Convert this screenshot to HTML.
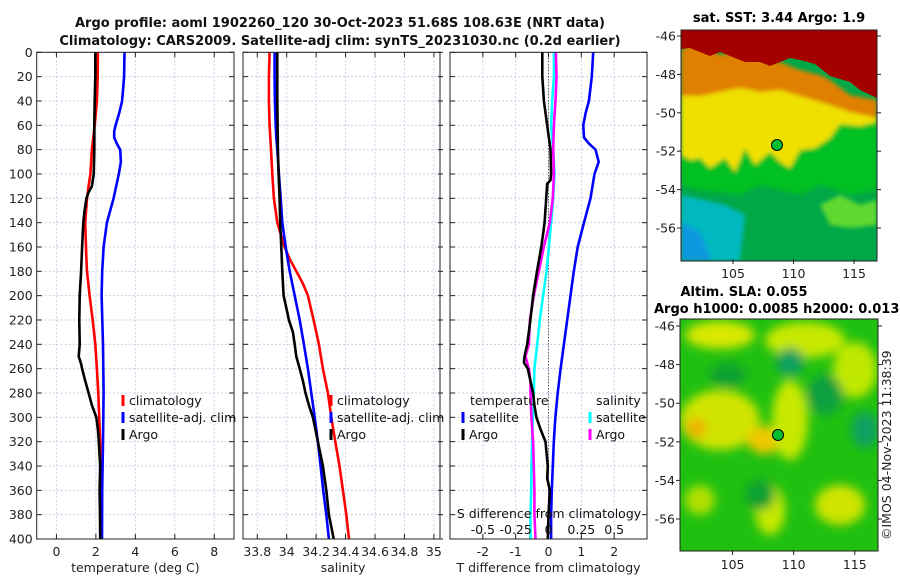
<!DOCTYPE html>
<html><head><meta charset="utf-8"><style>
body{margin:0;background:#fff;}
svg{display:block;font-family:"DejaVu Sans","Liberation Sans",sans-serif;}
</style></head><body>
<svg id="fig" width="900" height="580" viewBox="0 0 900 580" xmlns="http://www.w3.org/2000/svg">
<defs>
<filter id="bl" x="-20%" y="-20%" width="140%" height="140%"><feGaussianBlur stdDeviation="2"/></filter>
<filter id="bl2" x="-20%" y="-20%" width="140%" height="140%"><feGaussianBlur stdDeviation="5"/></filter>
<clipPath id="cm1"><rect x="681" y="30" width="196" height="231"/></clipPath>
<clipPath id="cm2"><rect x="680" y="319" width="198" height="232"/></clipPath>
</defs>
<g font-weight="bold" font-size="13" text-anchor="middle" fill="#111">
<text x="340" y="27">Argo profile: aoml 1902260_120 30-Oct-2023 51.68S 108.63E (NRT data)</text>
<text x="340" y="45">Climatology: CARS2009. Satellite-adj clim: synTS_20231030.nc (0.2d earlier)</text>
</g>
<g id="plots"></g>

<g>
<g clip-path="url(#cm1)">
<rect x="681" y="30" width="196" height="231" fill="#00a848"/>
<g filter="url(#bl)">
<polygon points="681,140 700,150 720,150 740,140 760,150 780,140 800,130 830,118 877,115 877,190 850,195 820,185 800,195 780,190 760,185 740,195 700,190 681,185" fill="#00c020"/>
<polygon points="820,205 840,195 860,205 877,200 877,225 850,228 830,225" fill="#60d830"/>
<polygon points="681,195 705,200 725,205 745,215 740,261 681,261" fill="#00b8c0"/>
<polygon points="681,222 700,232 712,261 681,261" fill="#1098e0"/>
<polygon points="681,85 720,82 760,85 800,95 830,105 877,110 877,122 860,126 840,124 830,138 815,148 800,150 790,168 780,162 770,152 755,165 745,148 735,172 725,158 710,168 700,158 690,160 681,155" fill="#f0e000"/>
<polygon points="681,50 690,45 700,42 720,55 740,50 760,55 780,62 800,70 820,75 830,80 850,95 877,100 877,118 850,112 830,105 800,96 780,90 760,92 740,88 720,92 700,96 681,96" fill="#e08000"/>
</g>
<polygon points="681,30 877,30 877,98 860,90 850,82 830,76 815,64 800,60 790,58 780,62 770,66 760,62 745,62 730,56 720,52 710,56 700,52 690,48 681,49" fill="#a50000"/>
<circle cx="777" cy="145" r="5.5" fill="#00c030" stroke="#000" stroke-width="1"/>
</g>
<rect x="681" y="30" width="196" height="231" fill="none" stroke="#222" stroke-width="1"/>
<text x="779" y="22" font-weight="bold" font-size="13" text-anchor="middle">sat. SST: 3.44 Argo: 1.9</text>
</g>

<g>
<g clip-path="url(#cm2)">
<rect x="680" y="319" width="198" height="232" fill="#20c010"/>
<g filter="url(#bl2)">
<ellipse cx="720" cy="335" rx="35" ry="14" fill="#d8e800"/>
<ellipse cx="805" cy="340" rx="40" ry="18" fill="#c8e800"/>
<ellipse cx="720" cy="420" rx="40" ry="30" fill="#d0e400"/>
<ellipse cx="696" cy="428" rx="10" ry="10" fill="#f0b000"/>
<ellipse cx="765" cy="440" rx="18" ry="14" fill="#f0c800"/>
<ellipse cx="790" cy="420" rx="18" ry="40" fill="#c8e800"/>
<ellipse cx="855" cy="370" rx="22" ry="28" fill="#c0e800"/>
<ellipse cx="840" cy="505" rx="25" ry="20" fill="#d0e400"/>
<ellipse cx="770" cy="510" rx="15" ry="25" fill="#c8e800"/>
<ellipse cx="700" cy="500" rx="15" ry="15" fill="#b0e000"/>
<ellipse cx="728" cy="375" rx="18" ry="12" fill="#10a030"/>
<ellipse cx="790" cy="362" rx="14" ry="14" fill="#10a060"/>
<ellipse cx="825" cy="395" rx="18" ry="20" fill="#10a040"/>
<ellipse cx="865" cy="430" rx="14" ry="18" fill="#10a060"/>
<ellipse cx="760" cy="495" rx="15" ry="15" fill="#10a030"/>
</g>
<circle cx="778" cy="435" r="5.5" fill="#00c030" stroke="#000" stroke-width="1"/>
</g>
<rect x="680" y="319" width="198" height="232" fill="none" stroke="#222" stroke-width="1"/>
<text x="744" y="296" font-weight="bold" font-size="13" text-anchor="middle">Altim. SLA: 0.055</text>
<text x="654" y="313" font-weight="bold" font-size="13">Argo h1000: 0.0085 h2000: 0.013</text>
<text transform="translate(891,540) rotate(-90)" font-size="12.5" fill="#222">©IMOS 04-Nov-2023 11:38:39</text>
</g>
<g id="maplabels" font-size="12.5" fill="#222"></g>
</svg>
<script>
// ---------- Data ----------
const depthTicks = [0,20,40,60,80,100,120,140,160,180,200,220,240,260,280,300,320,340,360,380,400];
const tempTicks = [0,2,4,6,8];
const salTicks = [33.8,34,34.2,34.4,34.6,34.8,35];
const salTickLabels = ["33.8","34","34.2","34.4","34.6","34.8","35"];
const tdiffTicks = [-2,-1,0,1,2];
const sdiffTicks = [-0.5,-0.25,0,0.25,0.5];
const sdiffTickLabels = ["-0.5","-0.25","0","0.25","0.5"];

const tArgoDepth = [0,20,40,60,80,100,110,115,120,130,140,160,180,200,220,240,250,256,260,270,280,290,300,310,320,340,360,380,400];
const tArgo = [1.97,1.97,1.94,1.92,1.92,1.89,1.80,1.63,1.52,1.43,1.36,1.30,1.25,1.18,1.16,1.18,1.13,1.25,1.30,1.46,1.63,1.80,2.02,2.10,2.15,2.22,2.19,2.21,2.22];
const tClimDepth = [0,20,40,60,80,100,110,120,140,160,170,180,200,220,240,260,280,300,320,340,360,380,400];
const tClim = [2.10,2.09,2.05,1.94,1.80,1.72,1.63,1.55,1.46,1.50,1.52,1.55,1.68,1.84,1.97,2.05,2.12,2.17,2.22,2.24,2.24,2.24,2.24];
const tSatDepth = [0,20,40,50,60,65,70,75,80,90,100,120,140,160,180,200,240,280,320,360,400];
const tSat = [3.45,3.43,3.33,3.18,3.00,2.93,2.93,3.06,3.23,3.27,3.16,2.90,2.56,2.39,2.32,2.29,2.36,2.39,2.36,2.32,2.31];

const sClimDepth = [0,20,40,60,80,100,120,140,160,170,180,190,200,220,240,260,280,300,320,340,360,380,400];
const sClim = [33.884,33.879,33.879,33.884,33.893,33.902,33.913,33.936,33.986,34.020,34.065,34.110,34.144,34.183,34.219,34.246,34.280,34.303,34.330,34.359,34.382,34.405,34.423];
const sSatDepth = [0,20,40,60,70,80,100,120,140,160,180,200,220,240,260,280,300,320,340,360,380,400];
const sSat = [33.918,33.918,33.920,33.925,33.929,33.936,33.947,33.959,33.970,33.993,34.020,34.054,34.088,34.117,34.144,34.167,34.190,34.212,34.230,34.248,34.269,34.287];
const sArgoDepth = [0,20,40,60,80,100,120,140,160,180,200,210,220,230,240,250,260,270,280,290,300,320,340,360,380,400];
const sArgo = [33.936,33.936,33.936,33.938,33.940,33.945,33.952,33.956,33.963,33.970,33.979,33.997,34.015,34.042,34.054,34.065,34.088,34.110,34.128,34.151,34.178,34.212,34.246,34.269,34.287,34.319];

const dtSatDepth = [0,20,40,50,60,70,75,80,90,100,120,140,160,180,200,220,240,260,280,300,320,340,360,380,400];
const dtSat = [1.36,1.32,1.23,1.13,1.06,1.08,1.23,1.43,1.53,1.40,1.28,1.08,0.89,0.77,0.67,0.57,0.47,0.37,0.28,0.21,0.16,0.13,0.10,0.08,0.08];
const dtArgoDepth = [0,20,40,60,80,100,105,108,120,140,160,180,200,220,240,250,255,260,270,280,290,300,310,320,340,350,360,380,400];
const dtArgo = [-0.19,-0.19,-0.14,-0.04,0.06,0.08,0.06,-0.04,-0.07,-0.12,-0.22,-0.35,-0.47,-0.55,-0.65,-0.73,-0.75,-0.63,-0.55,-0.47,-0.43,-0.37,-0.24,-0.09,-0.02,-0.04,0.04,0.00,-0.02];
const dsSatDepth = [0,20,40,60,80,100,120,140,160,180,200,220,240,260,280,300,320,340,360,380,400];
const dsSat = [0.041,0.041,0.028,0.020,0.036,0.046,0.036,0.020,0.003,-0.015,-0.041,-0.066,-0.086,-0.107,-0.112,-0.119,-0.124,-0.130,-0.132,-0.137,-0.137];
const dsArgoDepth = [0,20,40,60,80,100,120,140,160,180,200,220,240,250,260,270,280,300,320,340,360,380,400];
const dsArgo = [0.056,0.061,0.053,0.041,0.036,0.041,0.033,0.010,-0.036,-0.074,-0.112,-0.142,-0.150,-0.175,-0.150,-0.137,-0.137,-0.130,-0.117,-0.112,-0.107,-0.107,-0.099];

const mapLonTicks = [105,110,115];
const mapLatTicks = [-46,-48,-50,-52,-54,-56];

// ---------- Drawing ----------
const NS='http://www.w3.org/2000/svg';
const plots=document.getElementById('plots');
function mk(tag,attrs,parent){const e=document.createElementNS(NS,tag);for(const k in attrs)e.setAttribute(k,attrs[k]);(parent||plots).appendChild(e);return e;}
const Y0=52.3,Y1=539;
function yD(d){return Y0+(d/400)*(Y1-Y0);}

function panel(name,x0,x1,lo,hi,xticks,xlabels,xtitle,showY){
  const g=mk('g',{});
  
  
  const sx=v=>x0+(v-lo)/(hi-lo)*(x1-x0);
  xticks.forEach(v=>{mk('line',{x1:sx(v),x2:sx(v),y1:Y0,y2:Y1,stroke:'#c6cde6','stroke-width':1,'stroke-dasharray':'2,2'},g);});
  depthTicks.forEach(d=>{mk('line',{x1:x0,x2:x1,y1:yD(d),y2:yD(d),stroke:'#c6cde6','stroke-width':1,'stroke-dasharray':'2,2'},g);});
  xticks.forEach((v,i)=>{
    mk('line',{x1:sx(v),x2:sx(v),y1:Y1,y2:Y1-5,stroke:'#222'},g);
    mk('line',{x1:sx(v),x2:sx(v),y1:Y0,y2:Y0+5,stroke:'#222'},g);
    const t=mk('text',{x:sx(v),y:556,'font-size':12.5,'text-anchor':'middle',fill:'#222'},g);t.textContent=xlabels[i];
  });
  depthTicks.forEach(d=>{
    mk('line',{x1:x0,x2:x0+5,y1:yD(d),y2:yD(d),stroke:'#222'},g);
    mk('line',{x1:x1,x2:x1-5,y1:yD(d),y2:yD(d),stroke:'#222'},g);
    if(showY){const t=mk('text',{x:x0-4,y:yD(d)+4.5,'font-size':12.5,'text-anchor':'end',fill:'#222'},g);t.textContent=d;}
  });
  const tt=mk('text',{x:(x0+x1)/2,y:572,'font-size':12.5,'text-anchor':'middle',fill:'#222'},g);tt.textContent=xtitle;
  return {g,sx};
}
function line(P,name,depths,vals,color,conv){
  const pts=depths.map((d,i)=>P.sx(conv?conv(vals[i]):vals[i]).toFixed(1)+','+yD(d).toFixed(1)).join(' ');
  const l=mk('polyline',{points:pts,fill:'none',stroke:color,'stroke-width':2.6,'stroke-linejoin':'round'},P.g);
  
  
}
function frame(P,x0,x1){mk('rect',{x:x0,y:Y0,width:x1-x0,height:Y1-Y0,fill:'none',stroke:'#222','stroke-width':1},P.g);}
function legendItem(P,x,y,color,label,name){
  const g=mk('g',{},P.g);
  
  
  mk('line',{x1:x,x2:x,y1:y-10,y2:y+1,stroke:color,'stroke-width':3},g);
  const t=mk('text',{x:x+6,y:y,'font-size':12.5,fill:'#111'},g);t.textContent=label;
}

// Panel 1
const P1=panel('temperature-panel',36.7,234,-1,9,tempTicks,tempTicks.map(String),'temperature (deg C)',true);
line(P1,'temp-climatology-line',tClimDepth,tClim,'#ff0000');
line(P1,'temp-satellite-line',tSatDepth,tSat,'#0000ff');
line(P1,'temp-argo-line',tArgoDepth,tArgo,'#000000');
frame(P1,36.7,234);
legendItem(P1,123,405,'#ff0000','climatology','legend-climatology');
legendItem(P1,123,422,'#0000ff','satellite-adj. clim','legend-satellite');
legendItem(P1,123,439,'#000000','Argo','legend-argo');

// Panel 2
const P2=panel('salinity-panel',243,443,33.703,35.062,salTicks,salTickLabels,'salinity',false);
line(P2,'sal-climatology-line',sClimDepth,sClim,'#ff0000');
line(P2,'sal-satellite-line',sSatDepth,sSat,'#0000ff');
line(P2,'sal-argo-line',sArgoDepth,sArgo,'#000000');
frame(P2,243,440);
legendItem(P2,331,405,'#ff0000','climatology','legend-sal-climatology');
legendItem(P2,331,422,'#0000ff','satellite-adj. clim','legend-sal-satellite');
legendItem(P2,331,439,'#000000','Argo','legend-sal-argo');

// Panel 3
const P3=panel('difference-panel',450,647,-3,3,tdiffTicks,tdiffTicks.map(String),'T difference from climatology',false);
mk('line',{x1:P3.sx(0),x2:P3.sx(0),y1:Y0,y2:Y1,stroke:'#333','stroke-width':1,'stroke-dasharray':'1,2'},P3.g);
line(P3,'tdiff-satellite-line',dtSatDepth,dtSat,'#0000ff');
line(P3,'sdiff-satellite-line',dsSatDepth,dsSat,'#00ffff',v=>v*4);
line(P3,'sdiff-argo-line',dsArgoDepth,dsArgo,'#ff00ff',v=>v*4);
line(P3,'tdiff-argo-line',dtArgoDepth,dtArgo,'#000000');
frame(P3,450,647);
const lt=mk('text',{x:470,y:405,'font-size':12.5,fill:'#111'},P3.g);lt.textContent='temperature';
const ls=mk('text',{x:596,y:405,'font-size':12.5,fill:'#111'},P3.g);ls.textContent='salinity';
legendItem(P3,463,422,'#0000ff','satellite','legend-tdiff-satellite');
legendItem(P3,463,439,'#000000','Argo','legend-tdiff-argo');
legendItem(P3,590,422,'#00ffff','satellite','legend-sdiff-satellite');
legendItem(P3,590,439,'#ff00ff','Argo','legend-sdiff-argo');
const st=mk('text',{x:549,y:518,'font-size':12.5,'text-anchor':'middle',fill:'#111'},P3.g);st.textContent='S difference from climatology';


sdiffTicks.forEach((v,i)=>{const t=mk('text',{x:P3.sx(v*4),y:534,'font-size':12.5,'text-anchor':'middle',fill:'#111'},P3.g);t.textContent=sdiffTickLabels[i];});

// Map tick labels
const ml=document.getElementById('maplabels');
function mapAxes(xl,xr,lonLo,lonHi,latTopY,latStep,labY){
  mapLonTicks.forEach(v=>{const x=xl+(v-lonLo)/(lonHi-lonLo)*(xr-xl);
    mk('line',{x1:x,x2:x,y1:labY-14,y2:labY-19,stroke:'#222'},ml);
    mk('text',{x:x,y:labY,'text-anchor':'middle'},ml).textContent=v;});
  mapLatTicks.forEach((v,i)=>{const y=latTopY+i*latStep;
    mk('line',{x1:xl,x2:xl-4,y1:y,y2:y,stroke:'#222'},ml);
    mk('line',{x1:xr,x2:xr+4,y1:y,y2:y,stroke:'#222'},ml);
    mk('text',{x:xl-5,y:y+4.5,'text-anchor':'end'},ml).textContent=v;});
}
mapAxes(681,877,100.7,116.9,36,38.4,278);
mapAxes(680,878,100.7,116.9,326,38.6,569);
</script>
</body></html>
